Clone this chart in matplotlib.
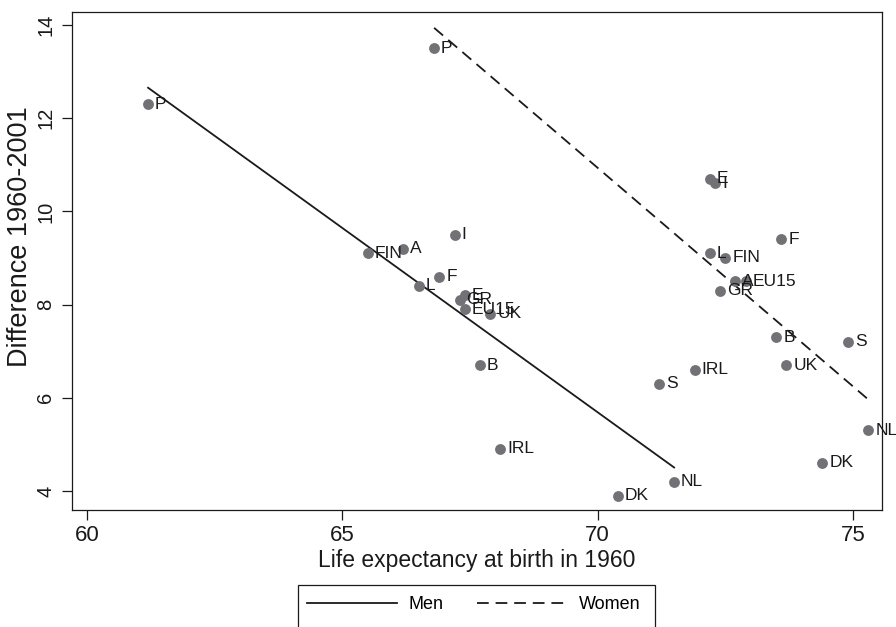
import numpy as np
import matplotlib
matplotlib.use('Agg')
import matplotlib.pyplot as plt
from matplotlib.patches import Rectangle

plt.rcParams['font.family'] = ['Liberation Sans', 'DejaVu Sans']

# men
men_lab = ['P', 'FIN', 'A', 'L', 'F', 'I', 'GR', 'E', 'EU15', 'UK', 'B', 'IRL', 'S', 'DK', 'NL']
men_x = [61.2, 65.5, 66.2, 66.5, 66.9, 67.2, 67.3, 67.4, 67.4, 67.9, 67.7, 68.1, 71.2, 70.4, 71.5]
men_y = [12.3, 9.1, 9.2, 8.4, 8.6, 9.5, 8.1, 8.2, 7.9, 7.8, 6.7, 4.9, 6.3, 3.9, 4.2]

# women
wom_lab = ['P', 'E', 'I', 'F', 'L', 'FIN', 'GR', 'A', 'EU15', 'B', 'S', 'UK', 'IRL', 'NL', 'DK']
wom_x = [66.8, 72.2, 72.3, 73.6, 72.2, 72.5, 72.4, 72.7, 72.9, 73.5, 74.9, 73.7, 71.9, 75.3, 74.4]
wom_y = [13.5, 10.7, 10.6, 9.4, 9.1, 9.0, 8.3, 8.5, 8.5, 7.3, 7.2, 6.7, 6.6, 5.3, 4.6]

xticks = [60, 65, 70, 75]
yticks = [4, 6, 8, 10, 12, 14]

W, H = 896, 627
fig = plt.figure(figsize=(W/100, H/100), dpi=100)
ax = fig.add_axes([72/W, 1-510/H, (882-72)/W, (510-12)/H])

dot = '#717176'
ink = '#1a1a1a'

ax.plot(men_x, men_y, 'o', color=dot, ms=7.8, mew=0, zorder=3)
ax.plot(wom_x, wom_y, 'o', color=dot, ms=7.8, mew=0, zorder=3)

for lab, x, y in zip(men_lab, men_x, men_y):
    ax.annotate(lab, (x, y), xytext=(5, 0), textcoords='offset points',
                va='center', ha='left', fontsize=12.5, color=ink, zorder=4)
for lab, x, y in zip(wom_lab, wom_x, wom_y):
    ax.annotate(lab, (x, y), xytext=(5, 0), textcoords='offset points',
                va='center', ha='left', fontsize=12.5, color=ink, zorder=4)

# fitted lines
b_m = np.polyfit(men_x, men_y, 1)
xm = np.array([min(men_x), max(men_x)])
l1, = ax.plot(xm, np.polyval(b_m, xm), color=ink, lw=1.3, label='Men')
b_w = np.polyfit(wom_x, wom_y, 1)
xw = np.array([min(wom_x), max(wom_x)])
l2, = ax.plot(xw, np.polyval(b_w, xw), color=ink, lw=1.3, ls=(0, (6.5, 3.8)), label='Women')

ax.set_xlim(59.71, 75.57)
ax.set_ylim(3.59, 14.28)
ax.set_xticks(xticks)
ax.set_yticks(yticks)
ax.tick_params(direction='out', length=7, width=0.9, colors=ink)
ax.tick_params(axis='x', labelsize=16, pad=4)
ax.tick_params(axis='y', labelsize=14.5, pad=5)
plt.setp(ax.get_yticklabels(), rotation=90, va='center')
for s in ax.spines.values():
    s.set_color(ink)
    s.set_linewidth(0.9)

fig.text(477/W, 1-560/H, 'Life expectancy at birth in 1960', fontsize=16.5,
         color=ink, ha='center', va='center')
fig.text(20/W, 1-237/H, 'Difference 1960-2001', fontsize=19.5, color=ink,
         rotation=90, ha='center', va='center')

# legend, its box runs off the bottom of the figure
leg = fig.legend(handles=[l1, l2], loc='upper left', bbox_to_anchor=(307/W, 1-596/H),
                 ncol=2, fontsize=13, frameon=False, handlelength=5.0,
                 columnspacing=1.9, borderpad=0, handletextpad=0.6, borderaxespad=0)
fig.add_artist(Rectangle((298/W, -0.05), (655-298)/W, 0.05+1-585/H,
                         transform=fig.transFigure, fill=False, edgecolor=ink, lw=0.9))

plt.savefig('out.png', dpi=100)
